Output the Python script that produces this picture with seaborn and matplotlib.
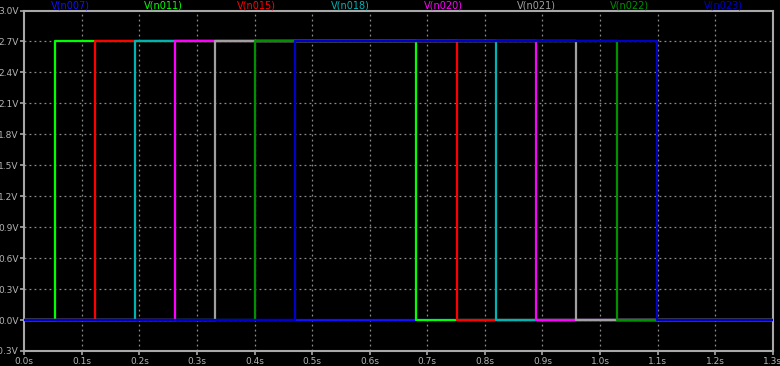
import matplotlib
matplotlib.use("Agg")
import matplotlib.pyplot as plt
import seaborn as sns
import pandas as pd
import numpy as np

# ---- data ----
trace_names = ["V(n007)", "V(n011)", "V(n015)", "V(n018)", "V(n020)", "V(n021)", "V(n022)", "V(n023)"]
trace_colors = ["#1010ff", "#00ff00", "#ff0000", "#00b4b4", "#ff00ff", "#a0a0a0", "#009000", "#0000c8"]
# n007 stays at 0 V; the others are single pulses
rise_times = [None, 0.053, 0.123, 0.192, 0.262, 0.332, 0.401, 0.471]
fall_times = [None, 0.681, 0.751, 0.820, 0.889, 0.959, 1.029, 1.099]
high_level = 2.7
t_end = 1.3

x_ticks = [0.0, 0.1, 0.2, 0.3, 0.4, 0.5, 0.6, 0.7, 0.8, 0.9, 1.0, 1.1, 1.2, 1.3]
x_tick_labels = ["0.0s", "0.1s", "0.2s", "0.3s", "0.4s", "0.5s", "0.6s", "0.7s", "0.8s", "0.9s", "1.0s", "1.1s", "1.2s", "1.3s"]
y_ticks = [-0.3, 0.0, 0.3, 0.6, 0.9, 1.2, 1.5, 1.8, 2.1, 2.4, 2.7, 3.0]
y_tick_labels = ["-0.3V", "0.0V", "0.3V", "0.6V", "0.9V", "1.2V", "1.5V", "1.8V", "2.1V", "2.4V", "2.7V", "3.0V"]

sns.set_style("dark", {"axes.facecolor": "black", "figure.facecolor": "black"})
plt.rcParams['font.family'] = ['DejaVu Sans']

fig = plt.figure(figsize=(7.8, 3.66), dpi=100)
fig.patch.set_facecolor("black")
ax = fig.add_axes([24.3 / 780, 15 / 366, (772.7 - 24.3) / 780, (351 - 10.5) / 366])
ax.set_facecolor("black")

grid_col = "#8a8a8a"
for xt in x_ticks[1:-1]:
    ax.axvline(xt, color=grid_col, lw=0.9, ls=(0, (1.5, 2.5)), zorder=0)
for yt in y_ticks[1:-1]:
    ax.axhline(yt, color=grid_col, lw=0.9, ls=(0, (1.5, 2.5)), zorder=0)

for i, (name, col, r, f) in enumerate(zip(trace_names, trace_colors, rise_times, fall_times)):
    if r is None:
        t = [0.0, t_end]
        v = [0.0, 0.0]
    else:
        t = [0.0, r, r, f, f, t_end]
        v = [0.0, 0.0, high_level, high_level, 0.0, 0.0]
    df = pd.DataFrame({"t": t, "v": v})
    sns.lineplot(data=df, x="t", y="v", color=col, lw=1.6, sort=False,
                 estimator=None, ax=ax, zorder=2 + i)

ax.set_xlim(0, t_end)
ax.set_ylim(-0.3, 3.0)
ax.set_xticks(x_ticks)
ax.set_xticklabels(x_tick_labels)
ax.set_yticks(y_ticks)
ax.set_yticklabels(y_tick_labels)
ax.set_xlabel("")
ax.set_ylabel("")
ax.grid(False)

spine_col = "#a8a8a8"
for s in ax.spines.values():
    s.set_visible(True)
    s.set_color(spine_col)
    s.set_linewidth(1.5)
ax.tick_params(axis="both", colors=spine_col, labelcolor="#b4b4b4", labelsize=6.5,
               length=3, width=1.2, direction="out", pad=1, bottom=True, left=True)

# legend labels above plot
for i, (name, col) in enumerate(zip(trace_names, trace_colors)):
    fig.text((70 + 93.3 * i) / 780, 1 - 5.5 / 366, name, color=col, fontsize=7,
             ha="center", va="center")

fig.savefig("out.png", dpi=100, facecolor="black")
